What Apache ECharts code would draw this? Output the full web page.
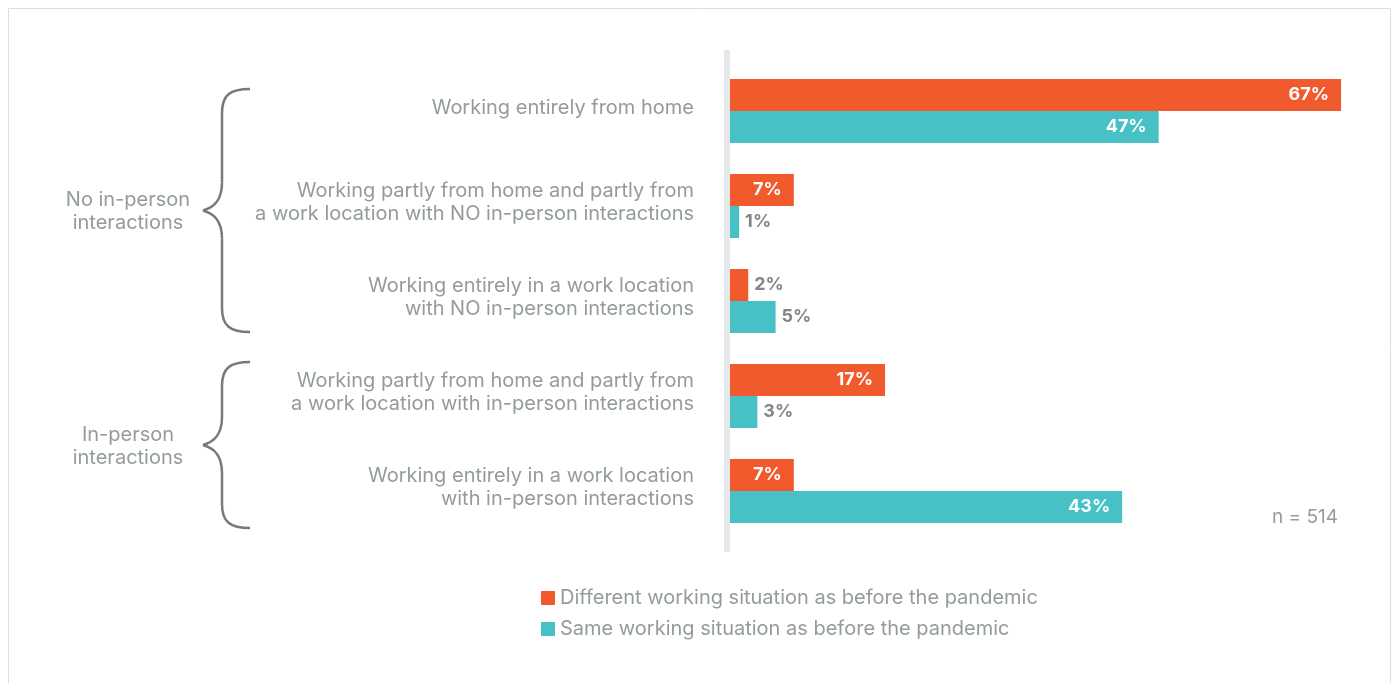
<!DOCTYPE html>
<html>
<head>
<meta charset="utf-8">
<script src="https://cdn.jsdelivr.net/npm/echarts@6/dist/echarts.min.js"></script>
<style>
  html, body { margin: 0; padding: 0; background: #ffffff; }
  #chart { width: 1394px; height: 683px; }
</style>
</head>
<body>
<div id="chart"></div>
<script>
// Working situations, top to bottom
const categories = [
  'Working entirely from home',
  'Working partly from home and partly from\na work location with NO in-person interactions',
  'Working entirely in a work location\nwith NO in-person interactions',
  'Working partly from home and partly from\na work location with in-person interactions',
  'Working entirely in a work location\nwith in-person interactions'
];
const seriesNames = [
  'Different working situation as before the pandemic',
  'Same working situation as before the pandemic'
];
const differentPct = [67, 7, 2, 17, 7];
const samePct = [47, 1, 5, 3, 43];
const groupLabels = ['No in-person\ninteractions', 'In-person\ninteractions'];
const sampleNote = 'n = 514';

const ORANGE = '#f15a2c';
const TEAL = '#48c1c6';
const GREY_TEXT = '#939c9a';
const BRACE = '#777a7a';
const FONT = 'Inter';

function barData(values) {
  return values.map(v => {
    const inside = v >= 6;
    return {
      value: v,
      label: {
        position: inside ? 'insideRight' : 'right',
        distance: inside ? 12 : 6,
        color: inside ? '#ffffff' : '#838686'
      }
    };
  });
}

// curly brace opening to the right, tip pointing left
function brace(xEnd, xTip, top, bottom) {
  const xv = xEnd - 28;
  const mid = (top + bottom) / 2;
  const st = { stroke: BRACE, lineWidth: 2.5, fill: null };
  const curve = (x1, y1, c1x, c1y, c2x, c2y, x2, y2) => ({
    type: 'bezierCurve',
    shape: { x1: x1, y1: y1, cpx1: c1x, cpy1: c1y, cpx2: c2x, cpy2: c2y, x2: x2, y2: y2 },
    style: st
  });
  const seg = (x1, y1, x2, y2) => ({ type: 'line', shape: { x1: x1, y1: y1, x2: x2, y2: y2 }, style: st });
  return {
    type: 'group',
    children: [
      curve(xEnd, top, xv + 8, top, xv, top + 6, xv, top + 24),
      seg(xv, top + 24, xv, mid - 28),
      curve(xv, mid - 28, xv, mid - 10, xv - 8, mid - 3, xTip, mid),
      curve(xTip, mid, xv - 8, mid + 3, xv, mid + 10, xv, mid + 28),
      seg(xv, mid + 28, xv, bottom - 24),
      curve(xv, bottom - 24, xv, bottom - 6, xv + 8, bottom, xEnd, bottom)
    ]
  };
}

const chart = echarts.init(document.getElementById('chart'), null, { renderer: 'canvas' });

chart.setOption({
  backgroundColor: '#ffffff',
  animation: false,
  textStyle: { fontFamily: FONT },
  grid: { left: 730, top: 63.5, height: 475, width: 638.4, containLabel: false },
  xAxis: {
    type: 'value', min: 0, max: 70,
    show: false,
    splitLine: { show: false }
  },
  yAxis: {
    type: 'category',
    inverse: true,
    data: categories,
    axisLine: { show: false },
    axisTick: { show: false },
    axisLabel: {
      margin: 36,
      align: 'right',
      // a short spacer line underneath lifts each label slightly above the bar pair's centre
      formatter: v => v.split('\n').map(l => '{t|' + l + '}').join('\n') + '\n{s| }',
      rich: {
        t: { color: GREY_TEXT, fontSize: 20, lineHeight: 23, fontFamily: FONT, align: 'right' },
        s: { fontSize: 6, lineHeight: 7, align: 'right' }
      }
    }
  },
  legend: {
    orient: 'vertical',
    left: 541,
    top: 588,
    padding: 0,
    itemWidth: 14,
    itemHeight: 14,
    itemGap: 11,
    icon: 'rect',
    textStyle: { color: GREY_TEXT, fontSize: 20, fontFamily: FONT },
    data: seriesNames
  },
  series: [
    {
      name: seriesNames[0],
      type: 'bar',
      barWidth: 32,
      barGap: '0%',
      itemStyle: { color: ORANGE },
      label: { show: true, formatter: '{c}%', fontSize: 18, fontWeight: 'bold', fontFamily: FONT },
      data: barData(differentPct)
    },
    {
      name: seriesNames[1],
      type: 'bar',
      barWidth: 32,
      barGap: '0%',
      itemStyle: { color: TEAL },
      label: { show: true, formatter: '{c}%', fontSize: 18, fontWeight: 'bold', fontFamily: FONT },
      data: barData(samePct)
    }
  ],
  graphic: [
    { type: 'rect', z: -10, shape: { x: 8.5, y: 8.5, width: 1382, height: 700 },
      style: { fill: '#ffffff', stroke: '#dedede', lineWidth: 1 } },
    { type: 'rect', shape: { x: 724, y: 50, width: 6, height: 502 }, style: { fill: '#e5e8e8' } },
    brace(250, 203, 89, 332),
    brace(250, 203, 362, 528),
    { type: 'text', x: 128, y: 211, style: { text: groupLabels[0], fill: GREY_TEXT, font: '20px ' + FONT,
      align: 'center', verticalAlign: 'middle', lineHeight: 23 } },
    { type: 'text', x: 128, y: 446, style: { text: groupLabels[1], fill: GREY_TEXT, font: '20px ' + FONT,
      align: 'center', verticalAlign: 'middle', lineHeight: 23 } },
    { type: 'text', x: 1338, y: 517, style: { text: sampleNote, fill: GREY_TEXT, font: '19px ' + FONT,
      align: 'right', verticalAlign: 'middle' } }
  ]
});
</script>
</body>
</html>
